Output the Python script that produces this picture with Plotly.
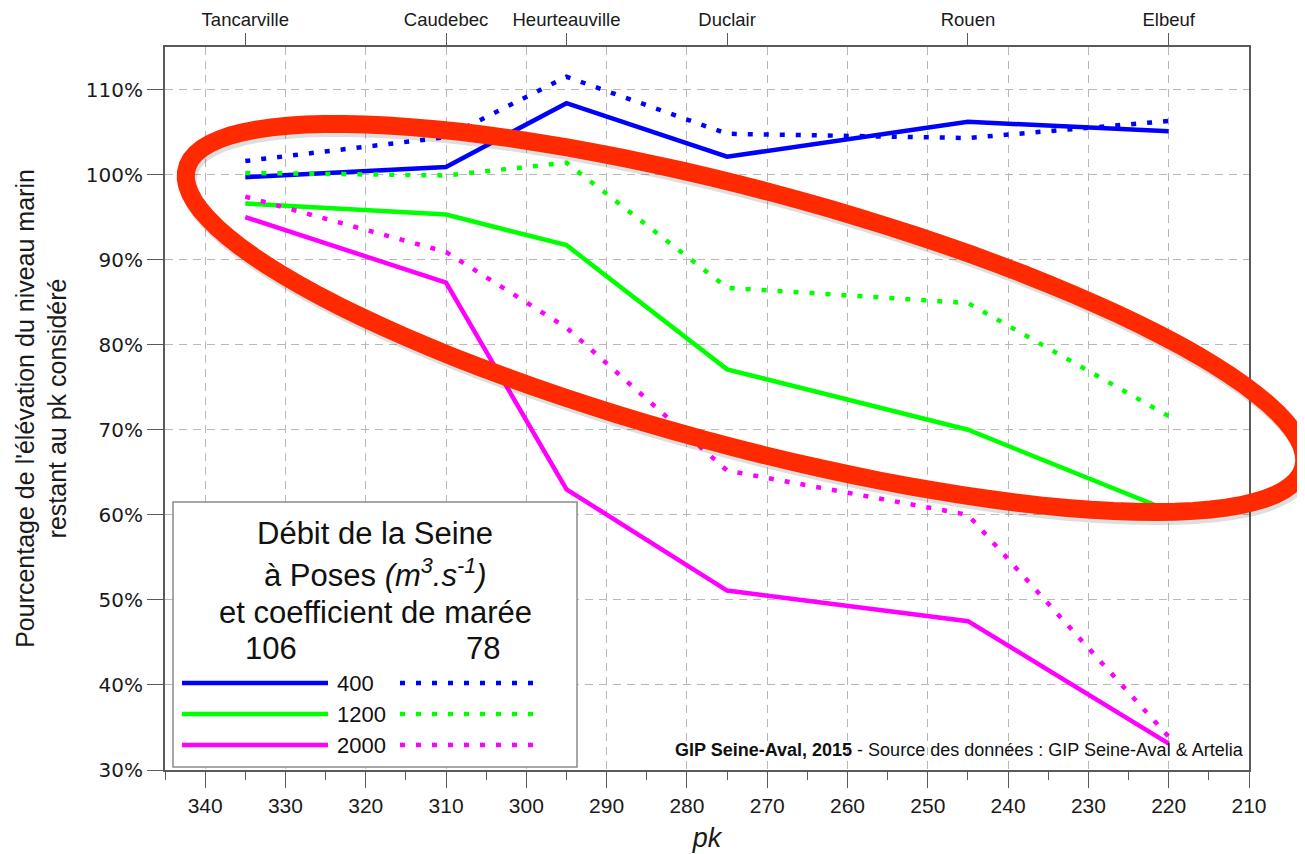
"""
Pourcentage de l'élévation du niveau marin restant le long de la Seine
=====================================================================
Lines per river discharge (400 / 1200 / 2000 m3/s) for two tide coefficients
(106 solid, 78 dotted), plotted against the pk of each station.
"""

import numpy as np
import plotly.graph_objects as go


# Stations (top axis)
STATION_NAMES = ["Tancarville", "Caudebec", "Heurteauville", "Duclair", "Rouen", "Elbeuf"]
STATION_PK = [335, 310, 295, 275, 245, 220]

# Percentage of sea level rise remaining, tide coefficient 106 (solid)
COEF106_400 = [99.7, 100.9, 108.4, 102.1, 106.2, 105.1]
COEF106_1200 = [96.6, 95.3, 91.7, 77.1, 70.0, 60.5]
COEF106_2000 = [95.0, 87.3, 63.0, 51.1, 47.5, 33.1]

# Same, tide coefficient 78 (dotted)
COEF78_400 = [101.6, 104.4, 111.5, 104.8, 104.3, 106.3]
COEF78_1200 = [100.2, 99.9, 101.4, 86.7, 84.9, 71.6]
COEF78_2000 = [97.4, 90.9, 82.0, 65.2, 60.0, 33.9]

DEBITS = ["400", "1200", "2000"]
COLORS = {"400": "#0000ff", "1200": "#00ff00", "2000": "#ff00ff"}

X_TICKS = list(range(340, 209, -10))
Y_TICKS = list(range(30, 111, 10))
Y_LABELS = [f"{v}%" for v in Y_TICKS]

# figure / plot area in pixels (page body adds an 8px offset)
FIG_W, FIG_H = 1305, 854
OFF = 8
L, R, T, B = 165 - OFF, 64, 47 - OFF, 92
PW, PH = FIG_W - L - R, FIG_H - T - B

DOT = "5px,11px"


def px(x, y):
    """Screen pixel position -> paper coordinates of the plot area."""
    return (x - OFF - L) / PW, (FIG_H - B - (y - OFF)) / PH


def ellipse_path(cx, cy, a, b, angle_deg, dx=0, dy=0, n=120):
    th = np.radians(angle_deg)
    t = np.linspace(0, 2 * np.pi, n)
    xs = cx + dx + a * np.cos(t) * np.cos(th) - b * np.sin(t) * np.sin(th)
    ys = cy + dy + a * np.cos(t) * np.sin(th) + b * np.sin(t) * np.cos(th)
    pts = [px(x, y) for x, y in zip(xs, ys)]
    return "M " + " L ".join(f"{p[0]:.4f},{p[1]:.4f}" for p in pts) + " Z"


series = {
    ("400", "106"): COEF106_400, ("1200", "106"): COEF106_1200, ("2000", "106"): COEF106_2000,
    ("400", "78"): COEF78_400, ("1200", "78"): COEF78_1200, ("2000", "78"): COEF78_2000,
}

fig = go.Figure()

for (debit, coef), vals in series.items():
    solid = coef == "106"
    fig.add_trace(go.Scatter(
        x=STATION_PK, y=vals, mode="lines",
        line=dict(color=COLORS[debit], width=4.5,
                  dash="solid" if solid else DOT),
        name=f"{debit} m3/s - coef {coef}",
        showlegend=False,
        hovertemplate="pk %{x}<br>%{y:.1f}%<extra></extra>",
    ))

# carrier for the top axis with station names
fig.add_trace(go.Scatter(x=STATION_PK, y=[None] * len(STATION_PK), xaxis="x2",
                         showlegend=False, hoverinfo="skip"))

axis_col = "#5a5a5a"
grid_col = "#b8b8b8"

fig.update_layout(
    width=FIG_W, height=FIG_H,
    margin=dict(l=L, r=R, t=T, b=B, autoexpand=False),
    plot_bgcolor="white", paper_bgcolor="white",
    font=dict(family="Liberation Sans, Arial, sans-serif", color="#1a1a1a"),
    showlegend=False,
    xaxis=dict(
        range=[345, 210], tickmode="array", tickvals=X_TICKS,
        ticks="outside", ticklen=16, tickwidth=1, tickcolor=axis_col,
        minor=dict(dtick=5, tick0=210, ticks="outside", ticklen=8,
                   tickcolor=axis_col, showgrid=False),
        showline=True, linecolor=axis_col, linewidth=2, mirror=True,
        showgrid=True, gridcolor=grid_col, gridwidth=1, griddash="8px,6px",
        zeroline=False, automargin=False,
        tickfont=dict(size=21),
        title=dict(text="<i>pk</i>", font=dict(size=27), standoff=12),
    ),
    xaxis2=dict(
        overlaying="x", side="top", range=[345, 210],
        tickmode="array", tickvals=STATION_PK, ticktext=STATION_NAMES,
        ticks="outside", ticklen=13, tickwidth=1, tickcolor=axis_col,
        showgrid=False, showline=False, zeroline=False, automargin=False,
        tickfont=dict(size=18.5),
    ),
    yaxis=dict(
        range=[30, 115], tickmode="array", tickvals=Y_TICKS, ticktext=Y_LABELS,
        ticks="outside", ticklen=16, tickwidth=1, tickcolor=axis_col,
        showline=True, linecolor=axis_col, linewidth=2, mirror=True,
        showgrid=True, gridcolor=grid_col, gridwidth=1, griddash="8px,6px",
        zeroline=False, automargin=False,
        tickfont=dict(family="DejaVu Sans, Verdana, sans-serif", size=20),
        title=dict(text="Pourcentage de l'élévation du niveau marin<br>restant au pk considéré",
                   font=dict(size=25), standoff=12),
    ),
)

shapes = []

# legend box
x0, y0 = px(173, 767)
x1, y1 = px(577, 502)
shapes.append(dict(type="rect", xref="paper", yref="paper", x0=x0, y0=y0, x1=x1, y1=y1,
                   line=dict(color="#8a8a8a", width=1.5), fillcolor="white", layer="above"))

annotations = []
for text, xc, yc in [
    ("Débit de la Seine", 375, 533),
    ("à Poses <i>(m<sup>3</sup>.s<sup>-1</sup>)</i>", 375, 573),
    ("et coefficient de marée", 375, 612),
    ("106", 271, 648),
    ("78", 483, 648),
]:
    ax, ay = px(xc, yc)
    annotations.append(dict(text=text, x=ax, y=ay, xref="paper", yref="paper",
                            showarrow=False, xanchor="center", yanchor="middle",
                            font=dict(size=31, color="#111")))

for debit, ly in zip(DEBITS, [683, 714, 745]):
    sx0, sy = px(182, ly)
    sx1, _ = px(328, ly)
    shapes.append(dict(type="line", xref="paper", yref="paper", x0=sx0, x1=sx1, y0=sy, y1=sy,
                       line=dict(color=COLORS[debit], width=4.5), layer="above"))
    dx0, _ = px(400, ly)
    dx1, _ = px(539, ly)
    shapes.append(dict(type="line", xref="paper", yref="paper", x0=dx0, x1=dx1, y0=sy, y1=sy,
                       line=dict(color=COLORS[debit], width=4.5, dash=DOT), layer="above"))
    tx, _ = px(335, ly)
    annotations.append(dict(text=debit, x=tx, y=sy, xref="paper", yref="paper",
                            showarrow=False, xanchor="left", yanchor="middle",
                            font=dict(size=22, color="#111")))

# source
sx, sy = px(1246, 750)
annotations.append(dict(
    text="<b>GIP Seine-Aval, 2015</b> - Source des données : GIP Seine-Aval & Artelia",
    x=sx, y=sy, xref="paper", yref="paper", showarrow=False,
    xanchor="right", yanchor="middle", font=dict(size=18, color="#111")))

# red highlight ellipse with a soft shadow
shapes.append(dict(type="path", xref="paper", yref="paper",
                   path=ellipse_path(745, 318, 578, 128, 15, dx=2, dy=4),
                   line=dict(color="rgba(0,0,0,0.13)", width=18), layer="above"))
shapes.append(dict(type="path", xref="paper", yref="paper",
                   path=ellipse_path(745, 318, 578, 128, 15),
                   line=dict(color="#ff2a00", width=18), layer="above"))

fig.update_layout(shapes=shapes, annotations=annotations)

fig.write_html("out.html")
